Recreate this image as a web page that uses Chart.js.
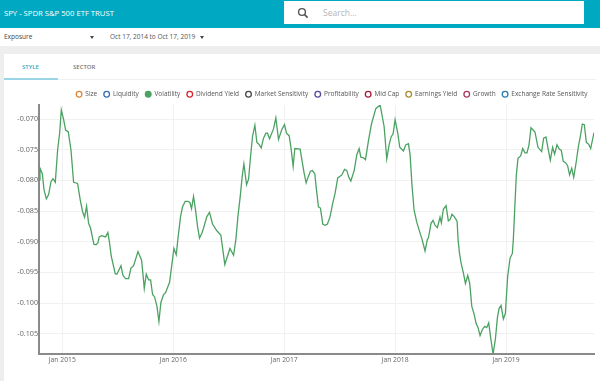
<!DOCTYPE html>
<html>
<head>
<meta charset="utf-8">
<title>SPY - SPDR S&P 500 ETF TRUST</title>
<script src="https://cdn.jsdelivr.net/npm/chart.js@4"></script>
<style>
    html, body { margin: 0; padding: 0; background: #fff; overflow: hidden; }
    body { width: 600px; height: 381px; position: relative; font-family: "Open Sans", sans-serif; }
    .box { position: absolute; }
    .label { position: absolute; white-space: nowrap; }
    .caret { position: absolute; width: 0; height: 0; border-left: 2.5px solid transparent; border-right: 2.5px solid transparent; border-top: 3px solid #444; }
    #wrap { position: absolute; left: 0; top: 80px; width: 600px; height: 301px; }
</style>
</head>
<body>
<div class="box" style="left:0;top:0;width:600px;height:28px;background:#00a9c1"></div>
<div class="label" style="left:4px;top:7px;font-size:7.7px;line-height:12px;color:#fff">SPY - SPDR S&amp;P 500 ETF TRUST</div>
<div class="box" style="left:284px;top:1px;width:300px;height:23px;background:#fff"></div>
<svg class="box" style="left:297px;top:7px" width="12" height="12" viewBox="0 0 12 12">
    <circle cx="5" cy="5" r="3.4" fill="none" stroke="#555" stroke-width="1.4"/>
    <line x1="7.6" y1="7.6" x2="10.6" y2="10.6" stroke="#555" stroke-width="1.6"/>
</svg>
<div class="label" style="left:323px;top:6px;font-size:8.5px;line-height:13px;color:#b5b5b5">Search...</div>

<div class="label" style="left:4px;top:31px;font-size:6.5px;line-height:12px;color:#444">Exposure</div>
<div class="caret" style="left:90px;top:36px"></div>
<div class="label" style="left:110px;top:31px;font-size:6.5px;line-height:12px;color:#555">Oct 17, 2014 to Oct 17, 2019</div>
<div class="caret" style="left:200px;top:36px"></div>

<div class="box" style="left:0;top:46px;width:600px;height:8px;background:#eeeeee"></div>
<div class="box" style="left:0;top:54px;width:4px;height:327px;background:#eeeeee"></div>
<div class="box" style="left:4px;top:79px;width:592px;height:1px;background:#f0f0f0"></div>
<div class="box" style="left:4px;top:78px;width:54px;height:2px;background:#9bd6e6"></div>
<div class="label" style="left:22px;top:61px;font-size:6px;line-height:12px;font-weight:600;color:#2aa9c9">STYLE</div>
<div class="label" style="left:73px;top:61px;font-size:6px;line-height:12px;font-weight:600;color:#777">SECTOR</div>

<div id="wrap"><canvas id="combined" width="600" height="301"></canvas></div>

<script>
// factor legend, only Volatility carries data
const factorNames = ['Size', 'Liquidity', 'Volatility', 'Dividend Yield', 'Market Sensitivity', 'Profitability', 'Mid Cap', 'Earnings Yield', 'Growth', 'Exchange Rate Sensitivity'];
const factorColors = ['#dc873c', '#3a6cb4', '#4ba262', '#d8232c', '#444444', '#5a45a2', '#a4203a', '#a98c2c', '#a83a62', '#2b7ba8'];

const yTickStep = 0.005;
const tickYears = [2015, 2016, 2017, 2018, 2019];
const tickLabels = ['Jan 2015', 'Jan 2016', 'Jan 2017', 'Jan 2018', 'Jan 2019'];

// years as decimals
const years = [
    2014.790, 2014.799, 2014.820, 2014.835, 2014.856, 2014.877, 2014.898, 2014.916, 2014.937, 2014.958, 2014.976, 2014.991,
    2015.012, 2015.030, 2015.054, 2015.078, 2015.102, 2015.138, 2015.162, 2015.183, 2015.201, 2015.219, 2015.237, 2015.255,
    2015.273, 2015.285, 2015.303, 2015.321, 2015.333, 2015.354, 2015.390, 2015.411, 2015.426, 2015.441, 2015.477, 2015.492,
    2015.529, 2015.547, 2015.571, 2015.598, 2015.619, 2015.643, 2015.682, 2015.715, 2015.739, 2015.757, 2015.778, 2015.796,
    2015.814, 2015.832, 2015.853, 2015.871, 2015.889, 2015.913, 2015.931, 2015.967, 2015.988,
    2016.006, 2016.027, 2016.045, 2016.066, 2016.084, 2016.108, 2016.132, 2016.150, 2016.165, 2016.183, 2016.201, 2016.219,
    2016.237, 2016.258, 2016.273, 2016.303, 2016.327, 2016.354, 2016.393, 2016.429, 2016.465, 2016.511, 2016.544, 2016.565,
    2016.583, 2016.604, 2016.622, 2016.637, 2016.661, 2016.679, 2016.697, 2016.715, 2016.736, 2016.754, 2016.772, 2016.793,
    2016.814, 2016.835, 2016.850, 2016.868, 2016.904, 2016.925, 2016.949, 2016.979,
    2017.003, 2017.021, 2017.045, 2017.060, 2017.081, 2017.096, 2017.144, 2017.162, 2017.180, 2017.198, 2017.219, 2017.237,
    2017.255, 2017.276, 2017.291, 2017.309, 2017.327, 2017.348, 2017.369, 2017.390, 2017.414, 2017.438, 2017.459, 2017.483,
    2017.520, 2017.544, 2017.565, 2017.583, 2017.601, 2017.631, 2017.655, 2017.676, 2017.691, 2017.715, 2017.733, 2017.760,
    2017.787, 2017.826, 2017.865, 2017.901, 2017.925, 2017.946, 2017.964, 2017.982,
    2018.000, 2018.024, 2018.042, 2018.075, 2018.096, 2018.120, 2018.135, 2018.153, 2018.171, 2018.195, 2018.225, 2018.243,
    2018.270, 2018.291, 2018.300, 2018.324, 2018.342, 2018.360, 2018.381, 2018.405, 2018.417, 2018.435, 2018.459, 2018.480,
    2018.495, 2018.513, 2018.541, 2018.559, 2018.568, 2018.580, 2018.595, 2018.616, 2018.634, 2018.655, 2018.673, 2018.691,
    2018.712, 2018.730, 2018.748, 2018.766, 2018.787, 2018.808, 2018.826, 2018.844, 2018.862, 2018.883, 2018.904, 2018.922,
    2018.937, 2018.955, 2018.976, 2018.994,
    2019.015, 2019.036, 2019.057, 2019.066, 2019.078, 2019.093, 2019.108, 2019.132, 2019.150, 2019.171, 2019.189, 2019.207,
    2019.225, 2019.261, 2019.288, 2019.321, 2019.339, 2019.360, 2019.381, 2019.399, 2019.420, 2019.438, 2019.459, 2019.480,
    2019.498, 2019.516, 2019.537, 2019.555, 2019.573, 2019.592, 2019.610, 2019.631, 2019.652, 2019.670, 2019.688, 2019.706,
    2019.724, 2019.745, 2019.763, 2019.793
];
const volatility = [
    -0.0799, -0.0780, -0.0789, -0.0815, -0.0830, -0.0823, -0.0802, -0.0797, -0.0803, -0.0750, -0.0723, -0.0685,
    -0.0701, -0.0718, -0.0721, -0.0750, -0.0803, -0.0805, -0.0832, -0.0851, -0.0860, -0.0842, -0.0870, -0.0878,
    -0.0894, -0.0904, -0.0905, -0.0902, -0.0892, -0.0890, -0.0892, -0.0885, -0.0902, -0.0923, -0.0952, -0.0953,
    -0.0939, -0.0955, -0.0960, -0.0960, -0.0943, -0.0939, -0.0916, -0.0930, -0.0976, -0.0953, -0.0962, -0.0962,
    -0.0986, -0.0990, -0.1005, -0.1030, -0.0999, -0.0986, -0.0983, -0.0966, -0.0937,
    -0.0911, -0.0921, -0.0891, -0.0859, -0.0843, -0.0834, -0.0834, -0.0836, -0.0846, -0.0826, -0.0848, -0.0875,
    -0.0894, -0.0886, -0.0878, -0.0859, -0.0852, -0.0871, -0.0882, -0.0889, -0.0937, -0.0911, -0.0922, -0.0896,
    -0.0859, -0.0826, -0.0793, -0.0773, -0.0807, -0.0798, -0.0761, -0.0728, -0.0710, -0.0738, -0.0741, -0.0747,
    -0.0731, -0.0723, -0.0723, -0.0732, -0.0716, -0.0698, -0.0733, -0.0717,
    -0.0709, -0.0723, -0.0727, -0.0745, -0.0777, -0.0748, -0.0749, -0.0769, -0.0788, -0.0804, -0.0793, -0.0785,
    -0.0784, -0.0789, -0.0815, -0.0843, -0.0845, -0.0871, -0.0873, -0.0871, -0.0859, -0.0837, -0.0821, -0.0796,
    -0.0791, -0.0782, -0.0784, -0.0795, -0.0801, -0.0784, -0.0758, -0.0748, -0.0762, -0.0763, -0.0766, -0.0735,
    -0.0708, -0.0683, -0.0677, -0.0712, -0.0765, -0.0742, -0.0729, -0.0724,
    -0.0701, -0.0723, -0.0746, -0.0752, -0.0742, -0.0740, -0.0758, -0.0810, -0.0848, -0.0868, -0.0886, -0.0896,
    -0.0915, -0.0896, -0.0894, -0.0870, -0.0865, -0.0873, -0.0877, -0.0860, -0.0869, -0.0847, -0.0841, -0.0866,
    -0.0864, -0.0855, -0.0861, -0.0867, -0.0897, -0.0918, -0.0935, -0.0951, -0.0968, -0.0955, -0.0968, -0.1005,
    -0.1018, -0.1033, -0.1040, -0.1053, -0.1043, -0.1038, -0.1040, -0.1032, -0.1057, -0.1083, -0.1059, -0.1024,
    -0.1009, -0.1004, -0.1026, -0.1017,
    -0.0956, -0.0927, -0.0919, -0.0896, -0.0848, -0.0791, -0.0764, -0.0760, -0.0748, -0.0755, -0.0755, -0.0742,
    -0.0714, -0.0721, -0.0746, -0.0753, -0.0731, -0.0729, -0.0750, -0.0767, -0.0746, -0.0757, -0.0742, -0.0749,
    -0.0751, -0.0769, -0.0771, -0.0776, -0.0791, -0.0780, -0.0795, -0.0772, -0.0745, -0.0728, -0.0708, -0.0709,
    -0.0738, -0.0741, -0.0748, -0.0722
];

// keeps the plot top where it is in the picture
const legendHeight = {
    id: 'legendHeight',
    beforeInit(chart) {
        const fit = chart.legend.fit;
        chart.legend.fit = function () {
            fit.call(this);
            this.height = 20.5;
        };
    }
};

const ctx = document.getElementById('combined').getContext('2d');
new Chart(ctx, {
    type: 'line',
    plugins: [legendHeight],
    data: {
        datasets: factorNames.map((name, i) => ({
            label: name,
            data: name === 'Volatility' ? years.map((year, j) => ({x: year, y: volatility[j]})) : [],
            borderColor: factorColors[i],
            backgroundColor: name === 'Volatility' ? factorColors[i] : '#ffffff',
            borderWidth: 1.3,
            pointRadius: 0,
            tension: 0
        }))
    },
    options: {
        responsive: false,
        animation: false,
        layout: {padding: {right: 6, left: 0, top: 4.5, bottom: 0}},
        plugins: {
            tooltip: {enabled: false},
            legend: {
                display: true,
                position: 'top',
                align: 'end',
                labels: {
                    usePointStyle: true,
                    pointStyle: 'circle',
                    boxWidth: 6,
                    boxHeight: 4,
                    padding: 6.45,
                    color: '#555',
                    font: {family: '"Open Sans"', size: 6.5}
                }
            }
        },
        scales: {
            x: {
                type: 'linear',
                min: years[0],
                max: years[years.length - 1],
                afterBuildTicks: scale => { scale.ticks = tickYears.map(v => ({value: v})); },
                afterFit: scale => { scale.height = 27; },
                border: {color: '#8a8a8a', width: 2},
                grid: {color: '#f1f1f1', drawTicks: false},
                ticks: {
                    autoSkip: false,
                    maxRotation: 0,
                    padding: 2,
                    color: '#666',
                    font: {family: '"Open Sans"', size: 6.8},
                    callback: value => tickLabels[tickYears.indexOf(value)]
                }
            },
            y: {
                min: -0.1083,
                max: -0.0677,
                afterFit: scale => { scale.width = 39; },
                border: {color: '#8a8a8a', width: 2},
                grid: {color: '#f1f1f1', drawTicks: false},
                ticks: {
                    stepSize: yTickStep,
                    includeBounds: false,
                    padding: 1,
                    color: '#666',
                    font: {family: '"Open Sans"', size: 7.2},
                    callback: value => value.toFixed(3)
                }
            }
        }
    }
});
</script>
</body>
</html>
